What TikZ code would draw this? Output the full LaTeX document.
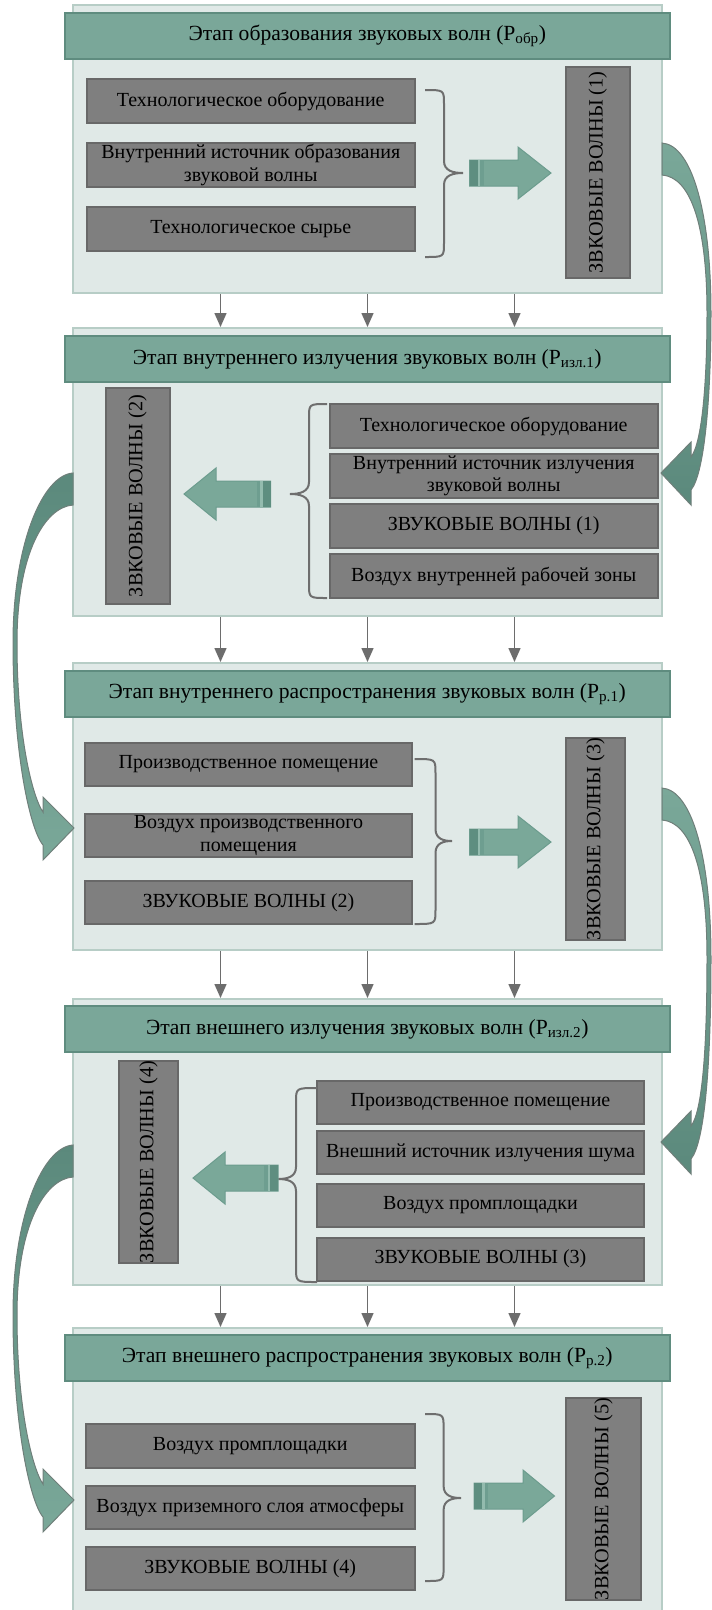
\documentclass[tikz,border=0pt]{standalone}
\usepackage{fontspec}
\setmainfont{Liberation Serif}
\usetikzlibrary{arrows.meta}
\definecolor{panelbg}{HTML}{E0E9E7}
\definecolor{panelbd}{HTML}{B7CDC6}
\definecolor{titlebg}{HTML}{7AA799}
\definecolor{titlebd}{HTML}{5F8C7F}
\definecolor{boxbg}{HTML}{7F7F7F}
\definecolor{boxbd}{HTML}{686868}
\definecolor{bracecol}{HTML}{6E6E6E}
\definecolor{arrfill}{HTML}{7AA899}
\definecolor{arrdark}{HTML}{5E8E80}
\definecolor{arrlight}{HTML}{93BBAE}
\definecolor{arrmid}{HTML}{6E9E90}
\definecolor{arrbd}{HTML}{6C9C8E}
\definecolor{curvedark}{HTML}{5B897C}
\definecolor{curvebd}{HTML}{6F7F7A}
\definecolor{darrcol}{HTML}{6D6D6D}
\newcommand\fsz{\fontsize{20}{22.5}\selectfont}
\newcommand\fszv{\fontsize{20.3}{22.5}\selectfont}
\newcommand\fszt{\fontsize{21.6}{24}\selectfont}
\newcommand\myBrace[6]{\draw[bracestyle] (#1,#4) .. controls (#2,#4) and (#2,#4) .. (#2,{#4+14}) -- (#2,{#5-12}) .. controls (#2,{#5-2}) and ({#3+0.5*(#2-#3)},#5) .. (#3,#5) .. controls ({#3+0.5*(#2-#3)},#5) and (#2,{#5+2}) .. (#2,{#5+12}) -- (#2,{#6-14}) .. controls (#2,#6) and (#2,#6) .. (#1,#6);}
\newcommand\myBlock[5]{%
\path[draw=arrbd, fill=arrfill, line width=1pt] (#1,{#4-13}) -- (#2,{#4-13}) -- (#2,{#4-26}) -- (#3,#4) -- (#2,{#4+26}) -- (#2,{#4+13}) -- (#1,{#4+13}) -- cycle;
\fill[arrdark] (#1,{#4-13}) rectangle ({#1+8*#5},{#4+13});
\fill[arrlight] ({#1+8*#5},{#4-13}) rectangle ({#1+10.5*#5},{#4+13});
\fill[arrmid] ({#1+10.5*#5},{#4-13}) rectangle ({#1+14*#5},{#4+13});}
\newcommand\myCurveR[2]{\path[draw=curvebd, line width=1pt, top color=arrfill, bottom color=curvedark] (662,#1) .. controls (692,{#1+2}) and (711,{#1+70}) .. (711,{#1+170}) .. controls (711,{#2-80}) and (705,#2) .. (691,{#2+17}) -- (691,{#2+32}) -- (661,#2) -- (691,{#2-31}) -- (691,{#2-16}) .. controls (702,{#2-30}) and (707,{#2-90}) .. (707,{#1+170}) .. controls (707,{#1+80}) and (690,{#1+34}) .. (662,{#1+32}) -- cycle;}
\newcommand\myCurveL[2]{\path[draw=curvebd, line width=1pt, top color=curvedark, bottom color=arrfill] (73,#1) .. controls (43,{#1+2}) and (13,{#1+70}) .. (13,{#1+170}) .. controls (13,{#2-80}) and (29,#2) .. (43,{#2+17}) -- (43,{#2+32}) -- (74,#2) -- (43,{#2-31}) -- (43,{#2-16}) .. controls (33,{#2-30}) and (17,{#2-90}) .. (17,{#1+170}) .. controls (17,{#1+80}) and (45,{#1+34}) .. (73,{#1+32}) -- cycle;}
\begin{document}
\begin{tikzpicture}[x=1pt,y=-1pt,
  panel/.style={draw=panelbd, fill=panelbg, line width=2pt, inner sep=0pt},
  title/.style={draw=titlebd, fill=titlebg, line width=2pt, inner sep=0pt, font=\fszt, minimum width=604.5, minimum height=46},
  gbox/.style={draw=boxbd, fill=boxbg, line width=2pt, inner sep=0pt, align=center, font=\fsz},
  vbox/.style={gbox, rotate=90, font=\fszv},
  bracestyle/.style={draw=bracecol, line width=2pt},
  darr/.style={draw=darrcol, line width=1.5pt, -{Triangle[length=14pt,width=12pt]}}]
\useasboundingbox (0,0) rectangle (712,1610);
% panels
\node[panel, minimum width=589.6, minimum height=288] (p1) at (367.5,149) {};
\node[panel, minimum width=589.6, minimum height=288] (p2) at (367.5,472) {};
\node[panel, minimum width=589.6, minimum height=287] (p3) at (367.5,806.5) {};
\node[panel, minimum width=589.6, minimum height=286] (p4) at (367.5,1142) {};
\node[panel, minimum width=589.6, minimum height=312] (p5) at (367.5,1484) {};
% titles
\node[title] (t1) at (367.25,36) {Этап образования звуковых волн (Р\textsubscript{обр})};
\node[title] (t2) at (367.25,359) {Этап внутреннего излучения звуковых волн (Р\textsubscript{изл.1})};
\node[title] (t3) at (367.25,694) {Этап внутреннего распространения звуковых волн (Р\textsubscript{р.1})};
\node[title] (t4) at (367.25,1029) {Этап внешнего излучения звуковых волн (Р\textsubscript{изл.2})};
\node[title] (t5) at (367.25,1358) {Этап внешнего распространения звуковых волн (Р\textsubscript{р.2})};
% panel 1
\node[gbox, minimum width=327.5, minimum height=44] (a1) at (250.75,101) {Технологическое оборудование};
\node[gbox, minimum width=327.5, minimum height=44] (a2) at (250.75,165) {Внутренний источник образования\\звуковой волны};
\node[gbox, minimum width=327.5, minimum height=44] (a3) at (250.75,229) {Технологическое сырье};
\node[vbox, minimum width=211, minimum height=63.5] (v1) at (597.75,172.5) {ЗВКОВЫЕ ВОЛНЫ (1)};
\myBrace{425}{444}{463}{90}{173}{257}
\myBlock{469.5}{518}{551}{173}{1}
% panel 2
\node[vbox, minimum width=216, minimum height=64] (v2) at (137.5,496) {ЗВКОВЫЕ ВОЛНЫ (2)};
\node[gbox, minimum width=328.5, minimum height=44] (b1) at (493.75,426) {Технологическое оборудование};
\node[gbox, minimum width=328.5, minimum height=44] (b2) at (493.75,476) {Внутренний источник излучения\\звуковой волны};
\node[gbox, minimum width=328.5, minimum height=44] (b3) at (493.75,526) {ЗВУКОВЫЕ ВОЛНЫ (1)};
\node[gbox, minimum width=328.5, minimum height=44] (b4) at (493.75,576) {Воздух внутренней рабочей зоны};
\myBrace{327}{309}{290}{404}{494}{598}
\myBlock{270.5}{216}{184}{494}{-1}
% panel 3
\node[gbox, minimum width=327, minimum height=43] (c1) at (248.5,764.5) {Производственное помещение};
\node[gbox, minimum width=327, minimum height=43] (c2) at (248.5,835.5) {Воздух производственного\\помещения};
\node[gbox, minimum width=327, minimum height=43] (c3) at (248.5,902.5) {ЗВУКОВЫЕ ВОЛНЫ (2)};
\node[vbox, minimum width=196, minimum height=59] (v3) at (595.5,839) {ЗВКОВЫЕ ВОЛНЫ (3)};
\myBrace{414.5}{435.5}{452}{759}{841}{924}
\myBlock{469.5}{518}{551}{842}{1}
% panel 4
\node[vbox, minimum width=202, minimum height=59] (v4) at (148.5,1162) {ЗВКОВЫЕ ВОЛНЫ (4)};
\node[gbox, minimum width=327, minimum height=43] (d1) at (480.5,1102.5) {Производственное помещение};
\node[gbox, minimum width=327, minimum height=43] (d2) at (480.5,1152.5) {Внешний источник излучения шума};
\node[gbox, minimum width=327, minimum height=43] (d3) at (480.5,1205.5) {Воздух промплощадки};
\node[gbox, minimum width=327, minimum height=43] (d4) at (480.5,1259) {ЗВУКОВЫЕ ВОЛНЫ (3)};
\myBrace{317}{296}{278}{1088}{1179}{1282}
\myBlock{278}{225}{193}{1178}{-1}
% panel 5
\node[gbox, minimum width=328.5, minimum height=43.5] (e1) at (250.25,1446) {Воздух промплощадки};
\node[gbox, minimum width=328.5, minimum height=43.5] (e2) at (250.25,1507.5) {Воздух приземного слоя атмосферы};
\node[gbox, minimum width=328.5, minimum height=43.5] (e3) at (250.25,1568.5) {ЗВУКОВЫЕ ВОЛНЫ (4)};
\node[vbox, minimum width=200, minimum height=75] (v5) at (603.5,1499) {ЗВКОВЫЕ ВОЛНЫ (5)};
\myBrace{425}{443.6}{461}{1414}{1498}{1581}
\myBlock{474}{523}{554.5}{1496}{1}
% down arrows
\foreach \u/\w in {p1/p2,p2/p3,p3/p4,p4/p5}
  \foreach \s in {-147,0,147}
    \draw[darr] ([xshift=\s pt]\u.south) -- ([xshift=\s pt]\w.north);
% curved arrows between stages
\myCurveR{143}{473}
\myCurveL{473}{828}
\myCurveR{788}{1142}
\myCurveL{1145}{1500}
\end{tikzpicture}
\end{document}
